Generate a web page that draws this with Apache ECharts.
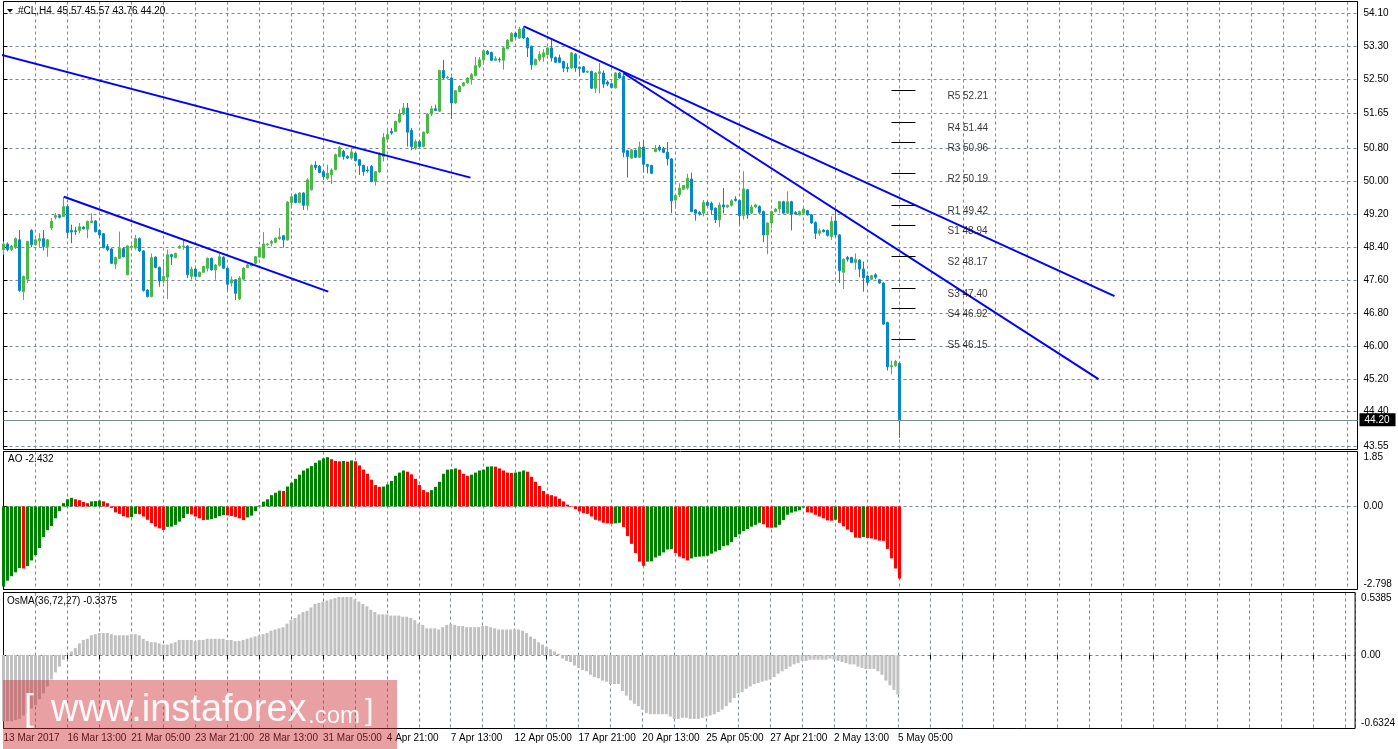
<!DOCTYPE html>
<html><head><meta charset="utf-8">
<script src="https://cdn.jsdelivr.net/npm/echarts@6/dist/echarts.min.js"></script>
<style>html,body{margin:0;padding:0;background:#fff}#c{width:1398px;height:749px}</style>
</head><body><div id="c"></div>
<script>
// ---- DATA ----
const timeLabels = ['13 Mar 2017','16 Mar 13:00','21 Mar 05:00','23 Mar 21:00','28 Mar 13:00','31 Mar 05:00','4 Apr 21:00','7 Apr 13:00','12 Apr 05:00','17 Apr 21:00','20 Apr 13:00','25 Apr 05:00','27 Apr 21:00','2 May 13:00','5 May 05:00'];
const priceTicks = ['54.10','53.30','52.50','51.65','50.80','50.00','49.20','48.40','47.60','46.80','46.00','45.20','44.40','43.55'];
const aoTicks = ['1.85','0.00','-2.798'];
const osmaTicks = ['0.5385','0.00','-0.6324'];
const headerSymbol = '#CL,H4';
const headerValues = '45.57 45.57 43.76 44.20';
const aoTitle = 'AO -2.432';
const osmaTitle = 'OsMA(36,72,27) -0.3375';

// [open, close, low, high]
const candles = [
[48.34,48.48,48.22,48.54],[48.48,48.34,48.30,48.52],[48.34,48.43,48.31,48.46],[48.39,48.61,48.36,48.64],[48.58,47.35,47.32,48.82],
[47.32,47.69,47.12,47.71],[47.62,48.54,47.53,48.56],[48.81,48.46,48.40,48.84],[48.46,48.58,48.44,48.62],[48.56,48.61,48.39,48.74],
[48.61,48.42,48.32,48.82],[48.42,48.58,48.17,48.60],[48.87,49.03,48.82,49.11],[49.13,49.17,49.08,49.23],[49.17,49.13,49.10,49.20],
[49.15,49.39,49.14,49.63],[49.39,48.76,48.62,49.45],[48.81,48.77,48.50,48.95],[48.80,48.78,48.70,48.90],[48.81,48.90,48.74,48.99],
[48.89,48.85,48.83,48.92],[48.84,49.03,48.62,49.05],[49.00,49.04,48.99,49.23],[49.04,48.78,48.76,49.06],[48.81,48.70,48.62,48.83],
[48.73,48.39,48.37,48.75],[48.42,48.34,48.30,48.48],[48.36,48.01,47.99,48.38],[47.99,48.15,47.87,48.17],[48.13,48.37,48.12,48.78],
[48.37,48.17,48.15,48.40],[47.73,48.43,47.72,48.45],[48.40,48.42,48.37,48.47],[48.38,48.61,48.34,48.70],[48.61,48.31,48.29,48.64],
[48.31,47.35,47.32,48.33],[47.36,47.20,47.18,47.38],[47.20,48.15,47.18,48.25],[48.16,47.91,47.89,48.18],[47.91,47.58,47.44,47.93],
[47.58,47.69,47.53,48.11],[47.67,48.22,47.14,48.34],[48.22,48.17,47.97,48.24],[48.15,48.25,48.13,48.27],[48.38,48.42,48.37,48.46],
[48.42,48.43,48.34,48.58],[48.43,47.73,47.65,48.45],[47.69,47.87,47.61,47.93],[47.87,47.69,47.67,47.90],[47.69,47.79,47.67,47.81],
[47.79,47.93,47.77,47.95],[47.89,48.13,47.81,48.15],[48.13,47.85,47.83,48.15],[47.85,47.97,47.61,47.99],[47.96,48.17,47.93,48.25],
[48.16,47.89,47.87,48.18],[47.89,47.50,47.36,47.91],[47.53,47.61,47.44,47.69],[47.61,47.28,47.12,47.63],[47.14,47.65,47.12,47.70],
[47.62,47.89,47.60,47.91],[47.91,47.97,47.89,48.00],[47.95,48.01,47.93,48.03],[48.01,48.17,47.99,48.19],[48.16,48.39,48.15,48.42],
[48.14,48.48,48.13,48.77],[48.46,48.48,48.44,48.50],[48.50,48.54,48.42,48.58],[48.52,48.62,48.50,48.64],[48.61,48.65,48.58,48.87],
[48.68,48.58,48.39,48.70],[48.58,49.50,48.56,49.52],[49.49,49.63,49.35,49.69],[49.68,49.49,49.47,49.71],[49.49,49.72,49.47,49.74],
[49.72,49.42,49.31,49.74],[49.42,50.04,49.30,50.08],[49.80,50.39,49.78,50.42],[50.40,50.34,50.28,50.49],[50.37,50.22,50.20,50.40],
[50.24,50.12,50.04,50.28],[50.08,50.20,50.04,50.41],[50.16,50.28,49.94,50.32],[50.29,50.65,50.27,50.68],[50.61,50.83,50.59,50.86],
[50.73,50.61,50.53,50.77],[50.61,50.57,50.55,50.64],[50.57,50.72,50.53,50.81],[50.69,50.51,50.49,50.72],[50.53,50.39,50.16,50.55],
[50.39,50.24,50.14,50.41],[50.28,50.26,50.22,50.37],[50.37,50.00,49.98,50.40],[50.00,50.24,49.90,50.26],[50.23,50.69,50.21,50.71],
[50.61,51.07,50.49,51.18],[51.03,51.14,51.02,51.30],[51.22,51.18,51.14,51.30],[51.22,51.46,51.20,51.48],[51.45,51.65,51.42,51.76],
[51.64,51.79,51.62,51.91],[51.79,51.20,50.85,51.91],[51.24,50.85,50.76,51.30],[50.81,50.97,50.77,51.02],[50.97,50.85,50.83,51.00],
[50.85,51.20,50.83,51.22],[51.18,51.64,51.16,51.66],[51.64,51.77,51.59,51.84],[51.77,51.73,51.71,51.87],[51.71,52.70,51.69,52.72],
[52.70,52.52,52.49,52.96],[52.52,52.54,52.50,52.57],[52.52,51.91,51.52,52.55],[51.91,52.21,51.89,52.23],[52.19,52.32,52.17,52.34],
[52.33,52.40,52.31,52.42],[52.40,52.52,52.38,52.54],[52.49,52.60,52.36,52.64],[52.58,52.82,52.56,53.03],[52.80,52.96,52.76,53.03],
[52.96,53.18,52.84,53.21],[53.17,53.10,53.08,53.20],[53.14,52.95,52.93,53.16],[52.95,52.99,52.93,53.05],[52.97,52.96,52.90,53.02],
[52.95,53.25,52.72,53.27],[53.23,53.44,53.22,53.46],[53.41,53.61,53.39,53.63],[53.61,53.52,53.48,53.63],[53.49,53.71,53.47,53.76],
[53.72,53.49,53.47,53.78],[53.49,53.25,53.03,53.52],[53.29,52.84,52.72,53.31],[52.84,52.97,52.82,52.99],[52.97,53.09,52.92,53.17],
[53.03,53.13,52.92,53.22],[53.09,53.25,53.07,53.27],[53.25,53.01,52.92,53.45],[53.02,52.90,52.88,53.04],[53.01,52.90,52.88,53.09],
[52.92,52.76,52.66,52.94],[52.78,52.75,52.66,52.88],[52.76,53.13,52.74,53.15],[53.10,52.76,52.67,53.12],[52.78,52.75,52.56,52.80],
[52.79,52.66,52.64,52.81],[52.66,52.68,52.64,52.70],[52.68,52.27,52.25,52.70],[52.27,52.64,52.15,52.66],[52.63,52.67,52.14,52.88],
[52.64,52.37,52.27,52.70],[52.42,52.37,52.32,52.46],[52.38,52.29,52.27,52.40],[52.28,52.64,52.26,52.66],[52.64,52.52,52.50,52.66],
[52.56,50.71,50.59,52.62],[50.75,50.61,50.10,50.77],[50.57,50.77,50.55,50.79],[50.76,50.59,50.57,50.78],[50.59,50.84,50.57,50.97],
[50.84,50.42,50.22,51.00],[50.41,50.37,50.20,50.43],[50.39,50.20,50.18,50.41],[50.73,50.81,50.71,50.89],[50.84,50.77,50.73,50.89],
[50.80,50.71,50.69,50.84],[50.71,50.55,50.39,50.96],[50.55,49.53,49.23,50.57],[49.55,49.66,49.34,49.68],[49.68,49.84,49.62,49.96],
[49.81,49.90,49.79,49.92],[49.84,50.08,49.80,50.19],[50.06,49.27,49.25,50.22],[49.31,49.23,49.05,49.33],[49.25,49.21,49.17,49.28],
[49.23,49.49,49.15,49.55],[49.49,49.42,49.40,49.53],[49.47,49.31,49.19,49.51],[49.35,49.07,48.99,49.37],[49.07,49.43,48.89,49.49],
[49.43,49.38,49.23,49.84],[49.38,49.42,49.36,49.44],[49.42,49.53,49.39,49.57],[49.57,49.54,49.51,49.64],[49.54,49.17,48.95,49.56],
[49.17,49.82,49.07,50.25],[49.80,49.19,49.09,49.82],[49.23,49.38,49.21,49.43],[49.38,49.43,49.35,49.46],[49.39,49.25,49.21,49.42],
[49.27,48.70,48.52,49.29],[48.70,48.99,48.23,49.01],[48.99,49.27,48.86,49.29],[49.27,49.33,49.25,49.35],[49.33,49.51,49.23,49.53],
[49.51,49.23,49.21,49.53],[49.23,49.51,49.21,49.76],[49.51,49.21,48.81,49.53],[49.25,49.21,49.19,49.28],[49.19,49.27,49.17,49.29],
[49.23,49.33,49.21,49.35],[49.29,49.19,49.17,49.31],[49.19,48.99,48.97,49.21],[49.00,48.74,48.60,49.03],[48.74,48.80,48.68,48.86],
[48.82,48.78,48.76,48.84],[48.81,48.69,48.66,48.83],[48.66,49.03,48.58,49.15],[49.04,48.70,48.66,49.31],[48.70,47.83,47.53,48.72],
[47.79,48.11,47.38,48.13],[48.15,48.11,48.05,48.19],[48.15,48.03,48.01,48.17],[48.03,48.11,47.85,48.25],[48.09,47.87,47.67,48.11],
[47.87,47.66,47.32,48.05],[47.70,47.54,47.48,47.72],[47.62,47.71,47.60,47.73],[47.73,47.67,47.62,47.77],[47.61,47.53,47.51,47.63],
[47.53,46.53,46.51,47.55],[46.57,45.49,45.40,46.59],[45.49,45.52,45.31,45.64],[45.52,45.62,45.49,45.66],[45.57,44.20,43.76,45.57]
];

const ao = [
-2.70,-2.50,-2.35,-2.22,-2.08,-2.09,-2.01,-1.82,-1.64,-1.40,-1.03,-0.80,-0.66,-0.40,-0.16,0.11,0.24,0.29,0.24,0.21,
0.15,0.11,0.17,0.18,0.20,0.17,0.11,-0.05,-0.20,-0.25,-0.33,-0.37,-0.36,-0.25,-0.26,-0.34,-0.45,-0.56,-0.68,-0.74,
-0.79,-0.69,-0.68,-0.62,-0.51,-0.39,-0.25,-0.27,-0.34,-0.40,-0.46,-0.45,-0.43,-0.39,-0.33,-0.29,-0.30,-0.32,-0.35,-0.40,
-0.46,-0.37,-0.31,-0.16,0.03,0.16,0.24,0.38,0.46,0.53,0.52,0.67,0.80,0.93,1.07,1.21,1.28,1.36,1.47,1.55,
1.62,1.66,1.59,1.53,1.52,1.53,1.51,1.55,1.52,1.38,1.24,1.10,0.90,0.72,0.66,0.67,0.74,0.86,1.03,1.14,
1.21,1.17,1.08,0.93,0.72,0.55,0.48,0.55,0.66,0.83,1.10,1.24,1.25,1.28,1.24,1.10,1.03,1.07,1.14,1.21,
1.24,1.34,1.35,1.34,1.28,1.21,1.14,1.13,1.14,1.17,1.21,1.17,1.00,0.83,0.69,0.52,0.41,0.38,0.34,0.26,
0.17,0.06,-0.02,-0.09,-0.17,-0.22,-0.25,-0.34,-0.45,-0.48,-0.55,-0.57,-0.58,-0.57,-0.55,-0.69,-1.00,-1.26,-1.57,-1.86,
-2.00,-1.86,-1.85,-1.72,-1.66,-1.55,-1.45,-1.44,-1.57,-1.69,-1.75,-1.82,-1.75,-1.70,-1.69,-1.68,-1.66,-1.59,-1.52,-1.47,
-1.34,-1.31,-1.20,-1.03,-0.94,-0.83,-0.76,-0.68,-0.62,-0.55,-0.60,-0.71,-0.72,-0.71,-0.62,-0.46,-0.28,-0.21,-0.17,-0.13,
-0.04,-0.20,-0.21,-0.28,-0.34,-0.40,-0.47,-0.48,-0.45,-0.55,-0.67,-0.78,-0.87,-1.05,-1.06,-1.03,-1.06,-1.08,-1.11,-1.15,
-1.16,-1.43,-1.75,-2.09,-2.43
];

const osma = [
-0.57,-0.57,-0.57,-0.56,-0.55,-0.52,-0.50,-0.46,-0.43,-0.38,-0.33,-0.27,-0.21,-0.15,-0.10,-0.04,0.005,0.03,0.06,0.10,
0.13,0.14,0.17,0.18,0.19,0.19,0.19,0.18,0.17,0.17,0.17,0.17,0.18,0.18,0.17,0.14,0.12,0.11,0.11,0.10,
0.09,0.09,0.10,0.11,0.13,0.13,0.13,0.13,0.12,0.13,0.13,0.14,0.14,0.14,0.14,0.14,0.13,0.13,0.12,0.12,
0.13,0.14,0.15,0.16,0.17,0.18,0.19,0.21,0.22,0.23,0.24,0.27,0.30,0.32,0.35,0.37,0.38,0.41,0.44,0.45,
0.46,0.47,0.48,0.49,0.50,0.50,0.50,0.50,0.48,0.46,0.44,0.42,0.39,0.37,0.35,0.35,0.35,0.34,0.34,0.34,
0.33,0.33,0.32,0.30,0.27,0.26,0.23,0.23,0.23,0.22,0.24,0.26,0.27,0.26,0.25,0.25,0.24,0.24,0.24,0.24,
0.25,0.25,0.24,0.23,0.22,0.22,0.22,0.22,0.22,0.22,0.21,0.19,0.16,0.14,0.11,0.09,0.07,0.05,0.03,0.01,
-0.03,-0.05,-0.06,-0.09,-0.11,-0.13,-0.14,-0.17,-0.19,-0.20,-0.22,-0.23,-0.25,-0.25,-0.25,-0.31,-0.35,-0.39,-0.42,-0.44,
-0.47,-0.50,-0.51,-0.51,-0.51,-0.51,-0.51,-0.53,-0.55,-0.55,-0.54,-0.54,-0.55,-0.55,-0.55,-0.54,-0.53,-0.52,-0.51,-0.49,
-0.47,-0.44,-0.41,-0.37,-0.33,-0.32,-0.29,-0.27,-0.25,-0.24,-0.23,-0.22,-0.21,-0.19,-0.16,-0.14,-0.12,-0.10,-0.08,-0.07,
-0.05,-0.05,-0.04,-0.04,-0.04,-0.04,-0.04,-0.03,-0.04,-0.05,-0.06,-0.07,-0.08,-0.08,-0.10,-0.11,-0.12,-0.12,-0.12,-0.14,
-0.17,-0.22,-0.26,-0.30,-0.34
];

// trend lines: [barIndex, price] pairs
const trendLine1 = [[-1, 53.095], [116.75, 50.095]];
const trendLine2 = [[15.1, 49.63], [81.2, 47.32]];
const trendLine3 = [[130.1, 53.774], [277.75, 47.213]];
const trendLine4 = [[155, 52.64], [273.75, 45.19]];

const pivotNames = ['R5','R4','R3','R2','R1','S1','S2','S3','S4','S5'];
const pivotValues = [52.21, 51.44, 50.96, 50.19, 49.42, 48.94, 48.17, 47.40, 46.92, 46.15];

// ---- CHART ----
const FONT = '"Liberation Sans", Arial, sans-serif';
const FAM = 'Liberation Sans';
const X_MAX = 338.5;
const PIVOT_X0 = 222, PIVOT_X1 = 228, PIVOT_LABEL_X = 236;
const BULL = '#4cb748', BEAR = '#0a86c8';

const gridLine = {show: true, lineStyle: {color: '#778899', type: [3, 3], width: 1}};
function xAxis(gi, bottom) {
  return {
    type: 'value', gridIndex: gi, min: 0, max: X_MAX, interval: 8,
    axisLine: {show: false},
    splitLine: gridLine,
    axisTick: {show: bottom, length: 4, lineStyle: {color: '#000'}},
    axisLabel: {
      show: bottom, align: 'left', margin: 5, fontSize: 10, fontFamily: FAM, color: '#000',
      showMaxLabel: false,
      formatter: v => { const k = v / 16; return (Number.isInteger(k) && timeLabels[k]) ? timeLabels[k] : ''; }
    }
  };
}
function yAxis(gi, min, max, labels, edgePad) {
  const vals = labels.map(Number);
  return {
    type: 'value', gridIndex: gi, position: 'right', min: min, max: max, scale: true,
    axisLine: {show: false},
    splitLine: gridLine,
    axisTick: {show: true, length: 4, customValues: vals, lineStyle: {color: '#000'}},
    axisLabel: {
      customValues: vals, margin: 6, fontSize: 10, fontFamily: FAM, color: '#000',
      formatter: v => {
        let i = vals.findIndex(x => Math.abs(x - v) < 1e-9);
        if (i < 0) return '';
        const s = labels[i];
        if (edgePad && i === 0) return '{t|' + s + '}';
        if (edgePad && i === labels.length - 1) return '{b|' + s + '}';
        return s;
      },
      rich: {
        t: {padding: [12, 0, 0, 0], fontSize: 10, fontFamily: FAM, color: '#000'},
        b: {padding: [0, 0, 10, 0], fontSize: 10, fontFamily: FAM, color: '#000'}
      }
    }
  };
}

const candleData = candles.map((c, i) => [i, c[0], c[1], c[2], c[3]]);
const last = candles[candles.length - 1];

function trend(data) {
  return {type: 'line', xAxisIndex: 0, yAxisIndex: 0, data: data, symbol: 'none', silent: true,
    lineStyle: {color: '#0000ff', width: 2}, z: 4, animation: false};
}

const G = {left: 3.5, right: 40.5, show: true, borderColor: '#000', borderWidth: 1, z: 1};
const option = {
  animation: false,
  backgroundColor: '#ffffff',
  grid: [
    Object.assign({top: 1.5, height: 448}, G),
    Object.assign({top: 451.5, height: 138}, G),
    Object.assign({top: 592.5, height: 136}, G)
  ],
  xAxis: [xAxis(0, false), xAxis(1, false), xAxis(2, true)],
  yAxis: [
    yAxis(0, 43.479, 54.38, priceTicks, false),
    yAxis(1, -2.798, 1.85, aoTicks, true),
    yAxis(2, -0.6324, 0.5385, osmaTicks, true)
  ],
  series: [
    {
      type: 'candlestick', xAxisIndex: 0, yAxisIndex: 0, data: candleData, barWidth: 2,
      encode: {x: 0, y: [1, 2, 3, 4]},
      itemStyle: {color: BULL, color0: BEAR, borderColor: BULL, borderColor0: BEAR, borderWidth: 1},
      z: 3,
      markLine: {
        silent: true, symbol: ['none', 'none'], animation: false,
        lineStyle: {color: '#778899', type: 'solid', width: 1},
        label: {show: true, position: 'end', distance: 2, formatter: () => last[1].toFixed(2),
          backgroundColor: '#000', color: '#fff', padding: [2, 6, 1, 5], fontSize: 10, fontFamily: FAM},
        data: [{yAxis: last[1]}]
      }
    },
    trend(trendLine1), trend(trendLine2), trend(trendLine3), trend(trendLine4),
    {
      type: 'scatter', xAxisIndex: 0, yAxisIndex: 0, symbolSize: 0, silent: true, z: 5,
      data: pivotValues.map((v, i) => ({value: [PIVOT_LABEL_X, v], name: pivotNames[i] + ' ' + v.toFixed(2)})),
      label: {show: true, position: 'right', distance: 0, offset: [0, 6], formatter: p => p.name,
        fontSize: 10, fontFamily: FAM, color: '#000'},
      markLine: {
        silent: true, symbol: ['none', 'none'], animation: false,
        lineStyle: {color: '#000', type: 'solid', width: 1},
        label: {show: false},
        data: pivotValues.map(v => [{coord: [PIVOT_X0, v]}, {coord: [PIVOT_X1, v]}])
      }
    },
    {
      type: 'bar', xAxisIndex: 1, yAxisIndex: 1, barWidth: 3, silent: true,
      data: ao.map((v, i) => [i, v]),
      itemStyle: {color: p => (p.dataIndex === 0 || ao[p.dataIndex] > ao[p.dataIndex - 1]) ? '#008000' : '#ff0000'}
    },
    {
      type: 'bar', xAxisIndex: 2, yAxisIndex: 2, barWidth: 3, silent: true,
      data: osma.map((v, i) => [i, v]),
      itemStyle: {color: '#c0c0c0'}
    }
  ],
  graphic: [
    {type: 'polygon', shape: {points: [[7, 9], [13, 9], [10, 12.5]]}, style: {fill: '#000'}, z: 50},
    {type: 'text', x: 18, y: 11, style: {text: headerSymbol, fill: '#000', font: '10px ' + FONT, verticalAlign: 'middle'}, z: 50},
    {type: 'text', x: 57, y: 11, style: {text: headerValues, fill: '#000', font: '10px ' + FONT, verticalAlign: 'middle'}, z: 50},
    {type: 'text', x: 8, y: 459, style: {text: aoTitle, fill: '#000', font: '10px ' + FONT, verticalAlign: 'middle'}, z: 50},
    {type: 'text', x: 7, y: 601, style: {text: osmaTitle, fill: '#000', font: '10px ' + FONT, verticalAlign: 'middle'}, z: 50},
    {type: 'rect', shape: {x: 3, y: 680, width: 394, height: 69}, style: {fill: 'rgba(206,44,51,0.45)'}, z: 100},
    {type: 'text', x: 24, y: 710, style: {text: '[', fill: 'rgba(255,255,255,0.92)', font: '36px ' + FONT, verticalAlign: 'middle'}, z: 101},
    {type: 'text', x: 51, y: 711, style: {text: 'www.instaforex', fill: 'rgba(255,255,255,0.92)', font: '38px ' + FONT, verticalAlign: 'middle'}, z: 101},
    {type: 'text', x: 308, y: 716, style: {text: '.com', fill: 'rgba(255,255,255,0.92)', font: '24px ' + FONT, verticalAlign: 'middle'}, z: 101},
    {type: 'text', x: 365, y: 712, style: {text: ']', fill: 'rgba(255,255,255,0.92)', font: '30px ' + FONT, verticalAlign: 'middle'}, z: 101}
  ]
};

const chart = echarts.init(document.getElementById('c'));
chart.setOption(option);
</script>
</body></html>
